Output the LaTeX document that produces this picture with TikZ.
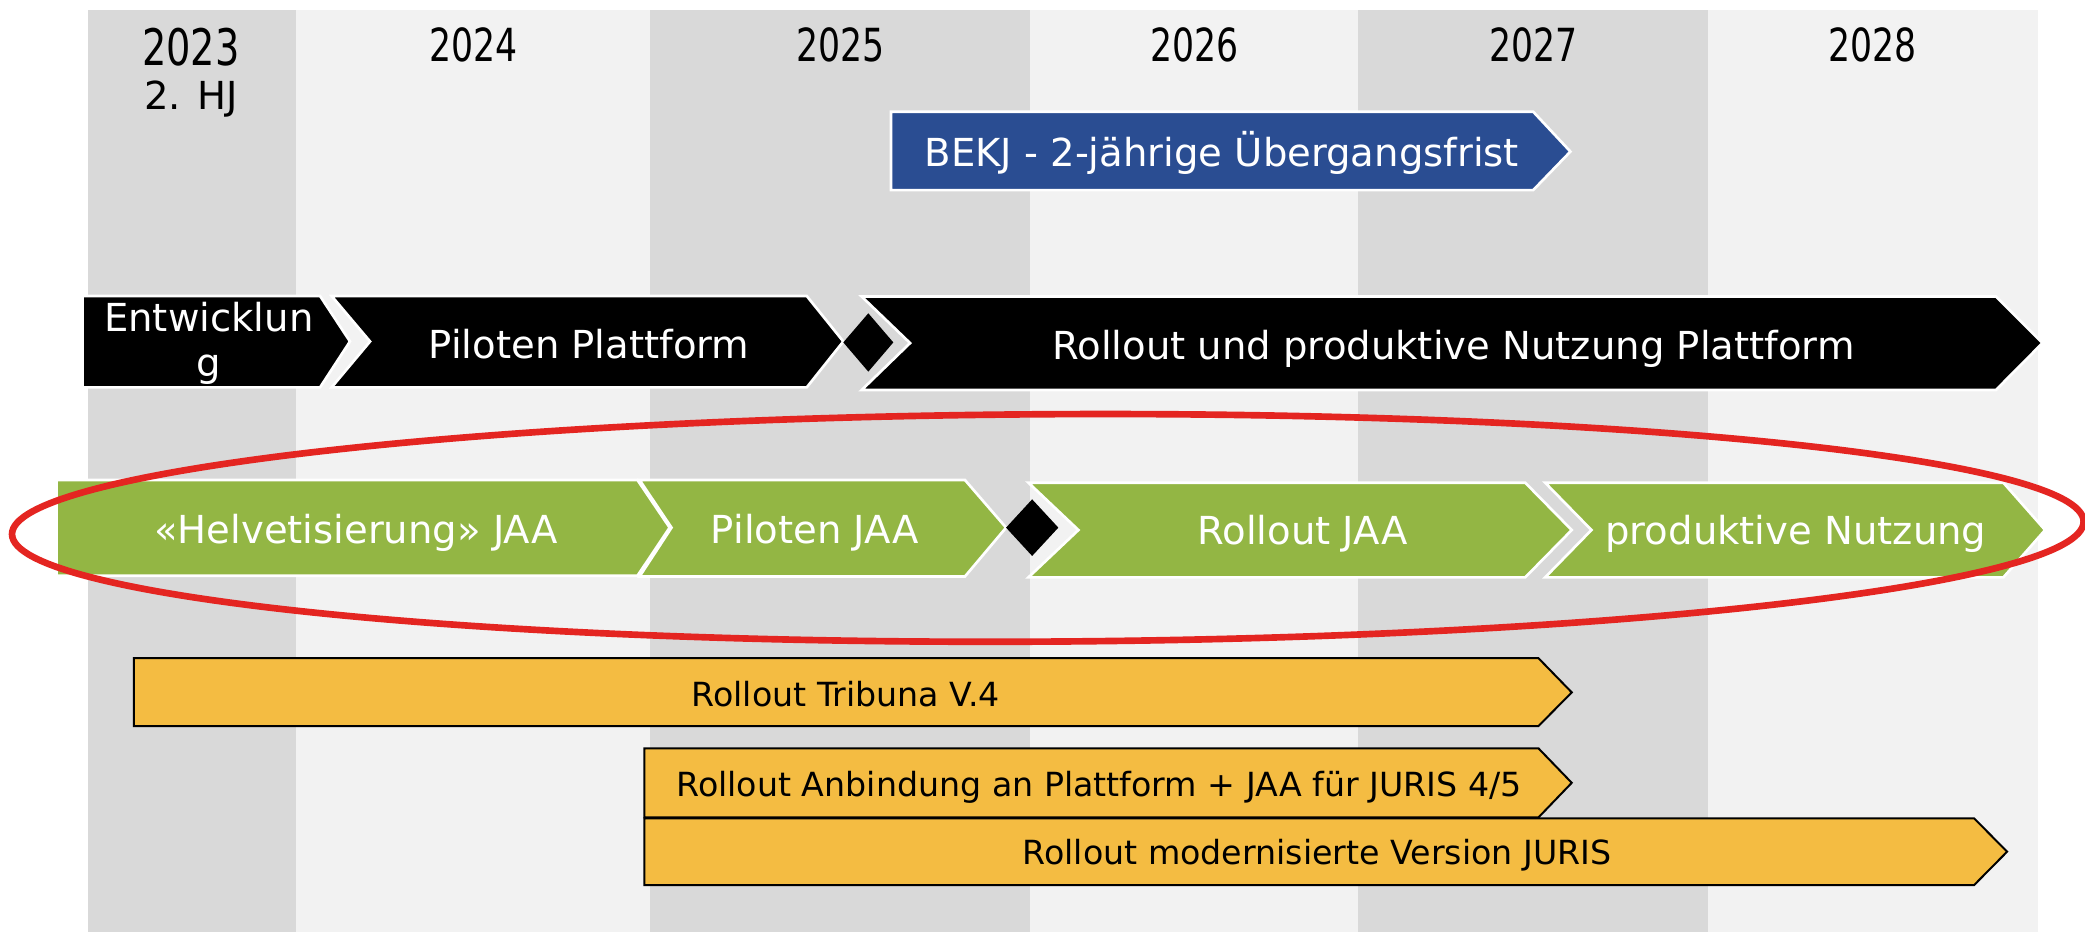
\documentclass[tikz,border=0pt]{standalone}
\usepackage{fontspec}
\setmainfont{DejaVu Sans}
\newfontfamily\yearfont[FakeStretch=0.76]{DejaVu Sans}
\definecolor{bandD}{HTML}{D9D9D9}
\definecolor{bandL}{HTML}{F2F2F2}
\definecolor{jaagreen}{HTML}{93B644}
\definecolor{bekjblue}{HTML}{2A4D92}
\definecolor{rollorange}{HTML}{F4BC42}
\definecolor{ringred}{HTML}{E42521}
\begin{document}
\begin{tikzpicture}[x=1pt,y=-1pt,
  blackbar/.style={fill=black, draw=white, line width=2pt},
  greenbar/.style={fill=jaagreen, draw=white, line width=2pt},
  bluebar/.style={fill=bekjblue, draw=white, line width=2pt},
  orangebar/.style={fill=rollorange, draw=black, line width=1.5pt},
  milestone/.style={fill=black},
  yearlbl/.style={inner sep=0pt, anchor=base, text=black, font=\yearfont\fontsize{34.3}{40}\selectfont},
  bigtxt/.style={inner sep=0pt, anchor=base, text=white, font=\fontsize{29}{34}\selectfont},
  orgtxt/.style={inner sep=0pt, anchor=base, text=black, font=\fontsize{25}{30}\selectfont},
  ring/.style={draw=ringred, line width=5pt}
]
\useasboundingbox[fill=white] (0,0) rectangle (1568,701);
% year bands
\fill[bandD] (66,7.5) rectangle (222.6,701);
\fill[bandL] (222.6,7.5) rectangle (488.5,701);
\fill[bandD] (488.5,7.5) rectangle (774.6,701);
\fill[bandL] (774.6,7.5) rectangle (1021.3,701);
\fill[bandD] (1021.3,7.5) rectangle (1284.5,701);
\fill[bandL] (1284.5,7.5) rectangle (1532.5,701);
% year labels
\node[yearlbl, font=\yearfont\fontsize{37.9}{44}\selectfont] (y2023) at (143.5,48.9) {2023};
\node[inner sep=0pt, anchor=base, font=\fontsize{29}{34}\selectfont] (hj) at (143.5,82.7) {2. HJ};
\node[yearlbl] (y2024) at (355.8,46.4) {2024};
\node[yearlbl] (y2025) at (631.9,46.4) {2025};
\node[yearlbl] (y2026) at (898.3,46.4) {2026};
\node[yearlbl] (y2027) at (1153,46.4) {2027};
\node[yearlbl] (y2028) at (1408.5,46.4) {2028};
% BEKJ
\path[bluebar] (670,84) -- (1153,84) -- (1181,114) -- (1153,143) -- (670,143) -- cycle;
\node[bigtxt] (bekj) at (918.8,125.3) {BEKJ - 2-jährige Übergangsfrist};
% platform row
\path[blackbar] (62,222.6) -- (240.7,222.6) -- (263.2,256.8) -- (240.7,291.3) -- (62,291.3) -- cycle;
\path[blackbar] (249.4,222.6) -- (606.7,222.6) -- (634.2,256.8) -- (606.7,291.3) -- (249.4,291.3) -- (278.3,256.8) -- cycle;
\path[milestone] (634.2,257.5) -- (653,235.6) -- (671.8,257.5) -- (653,279.5) -- cycle;
\path[blackbar] (648,223) -- (1501,223) -- (1536,258) -- (1501,293.3) -- (648,293.3) -- (684.4,258) -- cycle;
\node[bigtxt, align=center] (ent) at (157,283.5) {Entwicklun\\g};
\node[bigtxt] (pilotplat) at (443,269.3) {Piloten Plattform};
\node[bigtxt] (rollplat) at (1093,270.5) {Rollout und produktive Nutzung Plattform};
% JAA row
\path[greenbar] (42.6,361) -- (479.4,361) -- (503.6,396.8) -- (479.4,433) -- (42.6,433) -- cycle;
\path[greenbar] (481,361) -- (725.7,361) -- (756.6,396.8) -- (725.7,433.5) -- (481,433.5) -- (505,396.8) -- cycle;
\path[milestone] (756.6,396.8) -- (776.2,375.5) -- (795.9,396.8) -- (776.2,418.1) -- cycle;
\path[greenbar] (773.4,363) -- (1147,363) -- (1182,398.6) -- (1147,434.2) -- (773.4,434.2) -- (811,398.6) -- cycle;
\path[greenbar] (1162,363) -- (1506.6,363) -- (1538,398.6) -- (1506.6,434.2) -- (1162,434.2) -- (1196.8,398.6) -- cycle;
\node[bigtxt] (helv) at (267.7,408.6) {«Helvetisierung» JAA};
\node[bigtxt] (pilotjaa) at (612.7,408.6) {Piloten JAA};
\node[bigtxt] (rolljaa) at (979.4,409.5) {Rollout JAA};
\node[bigtxt] (prodn) at (1350.6,409.7) {produktive Nutzung};
% rollout bars
\path[orangebar] (100.7,495) -- (1157,495) -- (1182,520.7) -- (1157,546) -- (100.7,546) -- cycle;
\path[orangebar] (484.5,562.8) -- (1157,562.8) -- (1182,588.7) -- (1157,614.7) -- (484.5,614.7) -- cycle;
\path[orangebar] (484.5,615.4) -- (1484.6,615.4) -- (1509.4,640.5) -- (1484.6,665.6) -- (484.5,665.6) -- cycle;
\node[orgtxt] (tribuna) at (636,531.5) {Rollout Tribuna V.4};
\node[orgtxt] (anbind) at (826.5,599) {Rollout Anbindung an Plattform + JAA für JURIS 4/5};
\node[orgtxt] (juris) at (990.5,650.5) {Rollout modernisierte Version JURIS};
% highlight ring
\draw[ring, rotate around={0.35:(788,397)}] (788,397) ellipse [x radius=779pt, y radius=85.5pt];
\end{tikzpicture}
\end{document}
